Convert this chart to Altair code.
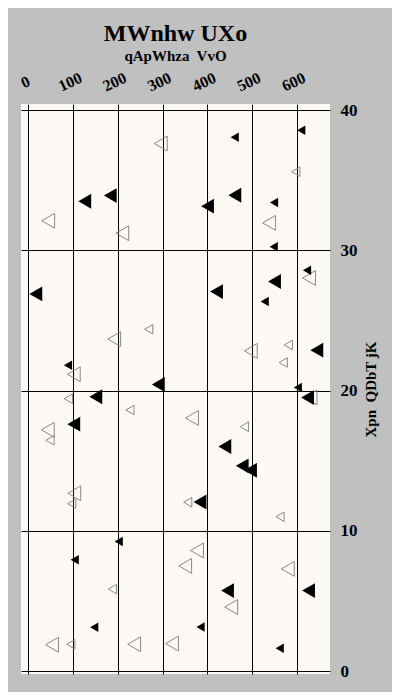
import altair as alt
import pandas as pd

# values
xs = [296.2, 126.3, 183.3, 44.5, 210.1, 16.8, 610.1, 461.4, 597.8, 400.6,
      461.6, 549.3, 538.1, 548.6, 623.0, 627.5, 550.4, 420.7, 528.5, 269.2,
      192.0, 88.7, 101.7, 290.6, 89.4, 150.9, 227.3, 366.0, 43.6, 101.7,
      48.5, 497.4, 581.2, 570.0, 644.9, 602.5, 624.2, 631.0, 482.9, 439.3,
      478.2, 496.7, 102.8, 97.0, 356.3, 383.8, 562.7, 202.1, 103.7, 377.1,
      350.7, 188.2, 147.3, 385.0, 53.0, 95.0, 236.7, 321.2, 580.1, 445.3,
      453.6, 626.4, 562.0]
ys = [37.63, 33.51, 33.92, 32.12, 31.23, 26.90, 38.57, 38.07, 35.62, 33.16,
      33.94, 33.42, 31.97, 30.27, 28.59, 28.04, 27.79, 27.07, 26.37, 24.38,
      23.68, 21.81, 21.17, 20.44, 19.43, 19.57, 18.62, 18.05, 17.21, 17.61,
      16.46, 22.84, 23.26, 22.01, 22.89, 20.22, 19.51, 19.51, 17.43, 16.02,
      14.64, 14.32, 12.68, 11.94, 12.04, 12.06, 11.01, 9.25, 7.94, 8.60,
      7.50, 5.84, 3.12, 3.14, 1.88, 1.91, 1.91, 1.96, 7.29, 5.74,
      4.57, 5.74, 1.62]
kind = ["H", "F", "F", "H", "H", "F", "F", "F", "H", "F",
        "F", "F", "H", "F", "F", "H", "F", "F", "F", "H",
        "H", "F", "H", "F", "H", "F", "H", "H", "H", "F",
        "H", "H", "H", "H", "F", "F", "F", "H", "H", "F",
        "F", "F", "H", "H", "H", "F", "H", "F", "F", "H",
        "H", "H", "F", "F", "H", "H", "H", "H", "H", "F",
        "H", "F", "F"]
mag = ["L", "L", "L", "L", "L", "L", "S", "S", "S", "L",
       "L", "S", "L", "S", "S", "L", "L", "L", "S", "S",
       "L", "S", "L", "L", "S", "L", "S", "L", "L", "L",
       "S", "L", "S", "S", "L", "S", "L", "L", "S", "L",
       "L", "L", "L", "S", "S", "L", "S", "S", "S", "L",
       "L", "S", "S", "S", "L", "S", "L", "L", "L", "L",
       "L", "L", "S"]
x_ticks = [0, 100, 200, 300, 400, 500, 600]
y_ticks = [0, 10, 20, 30, 40]

df = pd.DataFrame({"x": xs, "y": ys, "kind": kind, "mag": mag})
df["order"] = [0 if k == "H" else 1 for k in kind]

SERIF = "Liberation Serif"
NB = "\u00a0"

chart = alt.Chart(df).mark_point(shape="triangle-left", strokeWidth=1, opacity=1).encode(
    x=alt.X("x:Q", scale=alt.Scale(domain=[-16.3, 674.4], nice=False, zero=False),
            axis=alt.Axis(orient="top", values=x_ticks, title=None, labelAngle=-25,
                          labelAlign="center", labelBaseline="bottom",
                          labelPadding=15, ticks=False, domain=False,
                          labelFont=SERIF, labelFontSize=16, labelFontWeight="bold",
                          labelColor="black", grid=True, gridColor="black",
                          gridWidth=1, gridOpacity=1)),
    y=alt.Y("y:Q", scale=alt.Scale(domain=[-0.21, 40.45], nice=False, zero=False),
            axis=alt.Axis(orient="right", values=y_ticks, title="Xpn" + NB + " QDbT jK",
                          titleAngle=270, titleFont=SERIF, titleFontSize=15,
                          titleFontWeight="bold", titleColor="black", titlePadding=21,
                          labelPadding=10, ticks=False, domain=False,
                          labelFont=SERIF, labelFontSize=17, labelFontWeight="bold",
                          labelColor="black", grid=True, gridColor="black",
                          gridWidth=1, gridOpacity=1)),
    fill=alt.Fill("kind:N", scale=alt.Scale(domain=["F", "H"], range=["#000000", "transparent"]), legend=None),
    stroke=alt.Stroke("kind:N", scale=alt.Scale(domain=["F", "H"], range=["transparent", "#888888"]), legend=None),
    size=alt.Size("mag:N", scale=alt.Scale(domain=["S", "L"], range=[90, 220]), legend=None),
    order=alt.Order("order:Q"),
).properties(
    width=309,
    height=570,
    title=alt.TitleParams(text="MWnhw UXo", subtitle="qApWhza" + NB + " VvO", font=SERIF,
                          fontSize=24, fontWeight="bold", color="black",
                          subtitleFont=SERIF, subtitleFontSize=15,
                          subtitleFontWeight="bold", subtitleColor="black",
                          anchor="middle", offset=5, subtitlePadding=3),
    background="#c0c0c0",
    autosize=alt.AutoSizeParams(type="none"),
    padding={"left": 13, "top": 96, "right": 62, "bottom": 18},
    usermeta={"embedOptions": {"defaultStyle": "body{background:#c0c0c0;}"}},
).configure_view(fill="#fdf9f5", stroke=None)

chart.save("out.html", embed_options={"renderer": "svg", "actions": False})
